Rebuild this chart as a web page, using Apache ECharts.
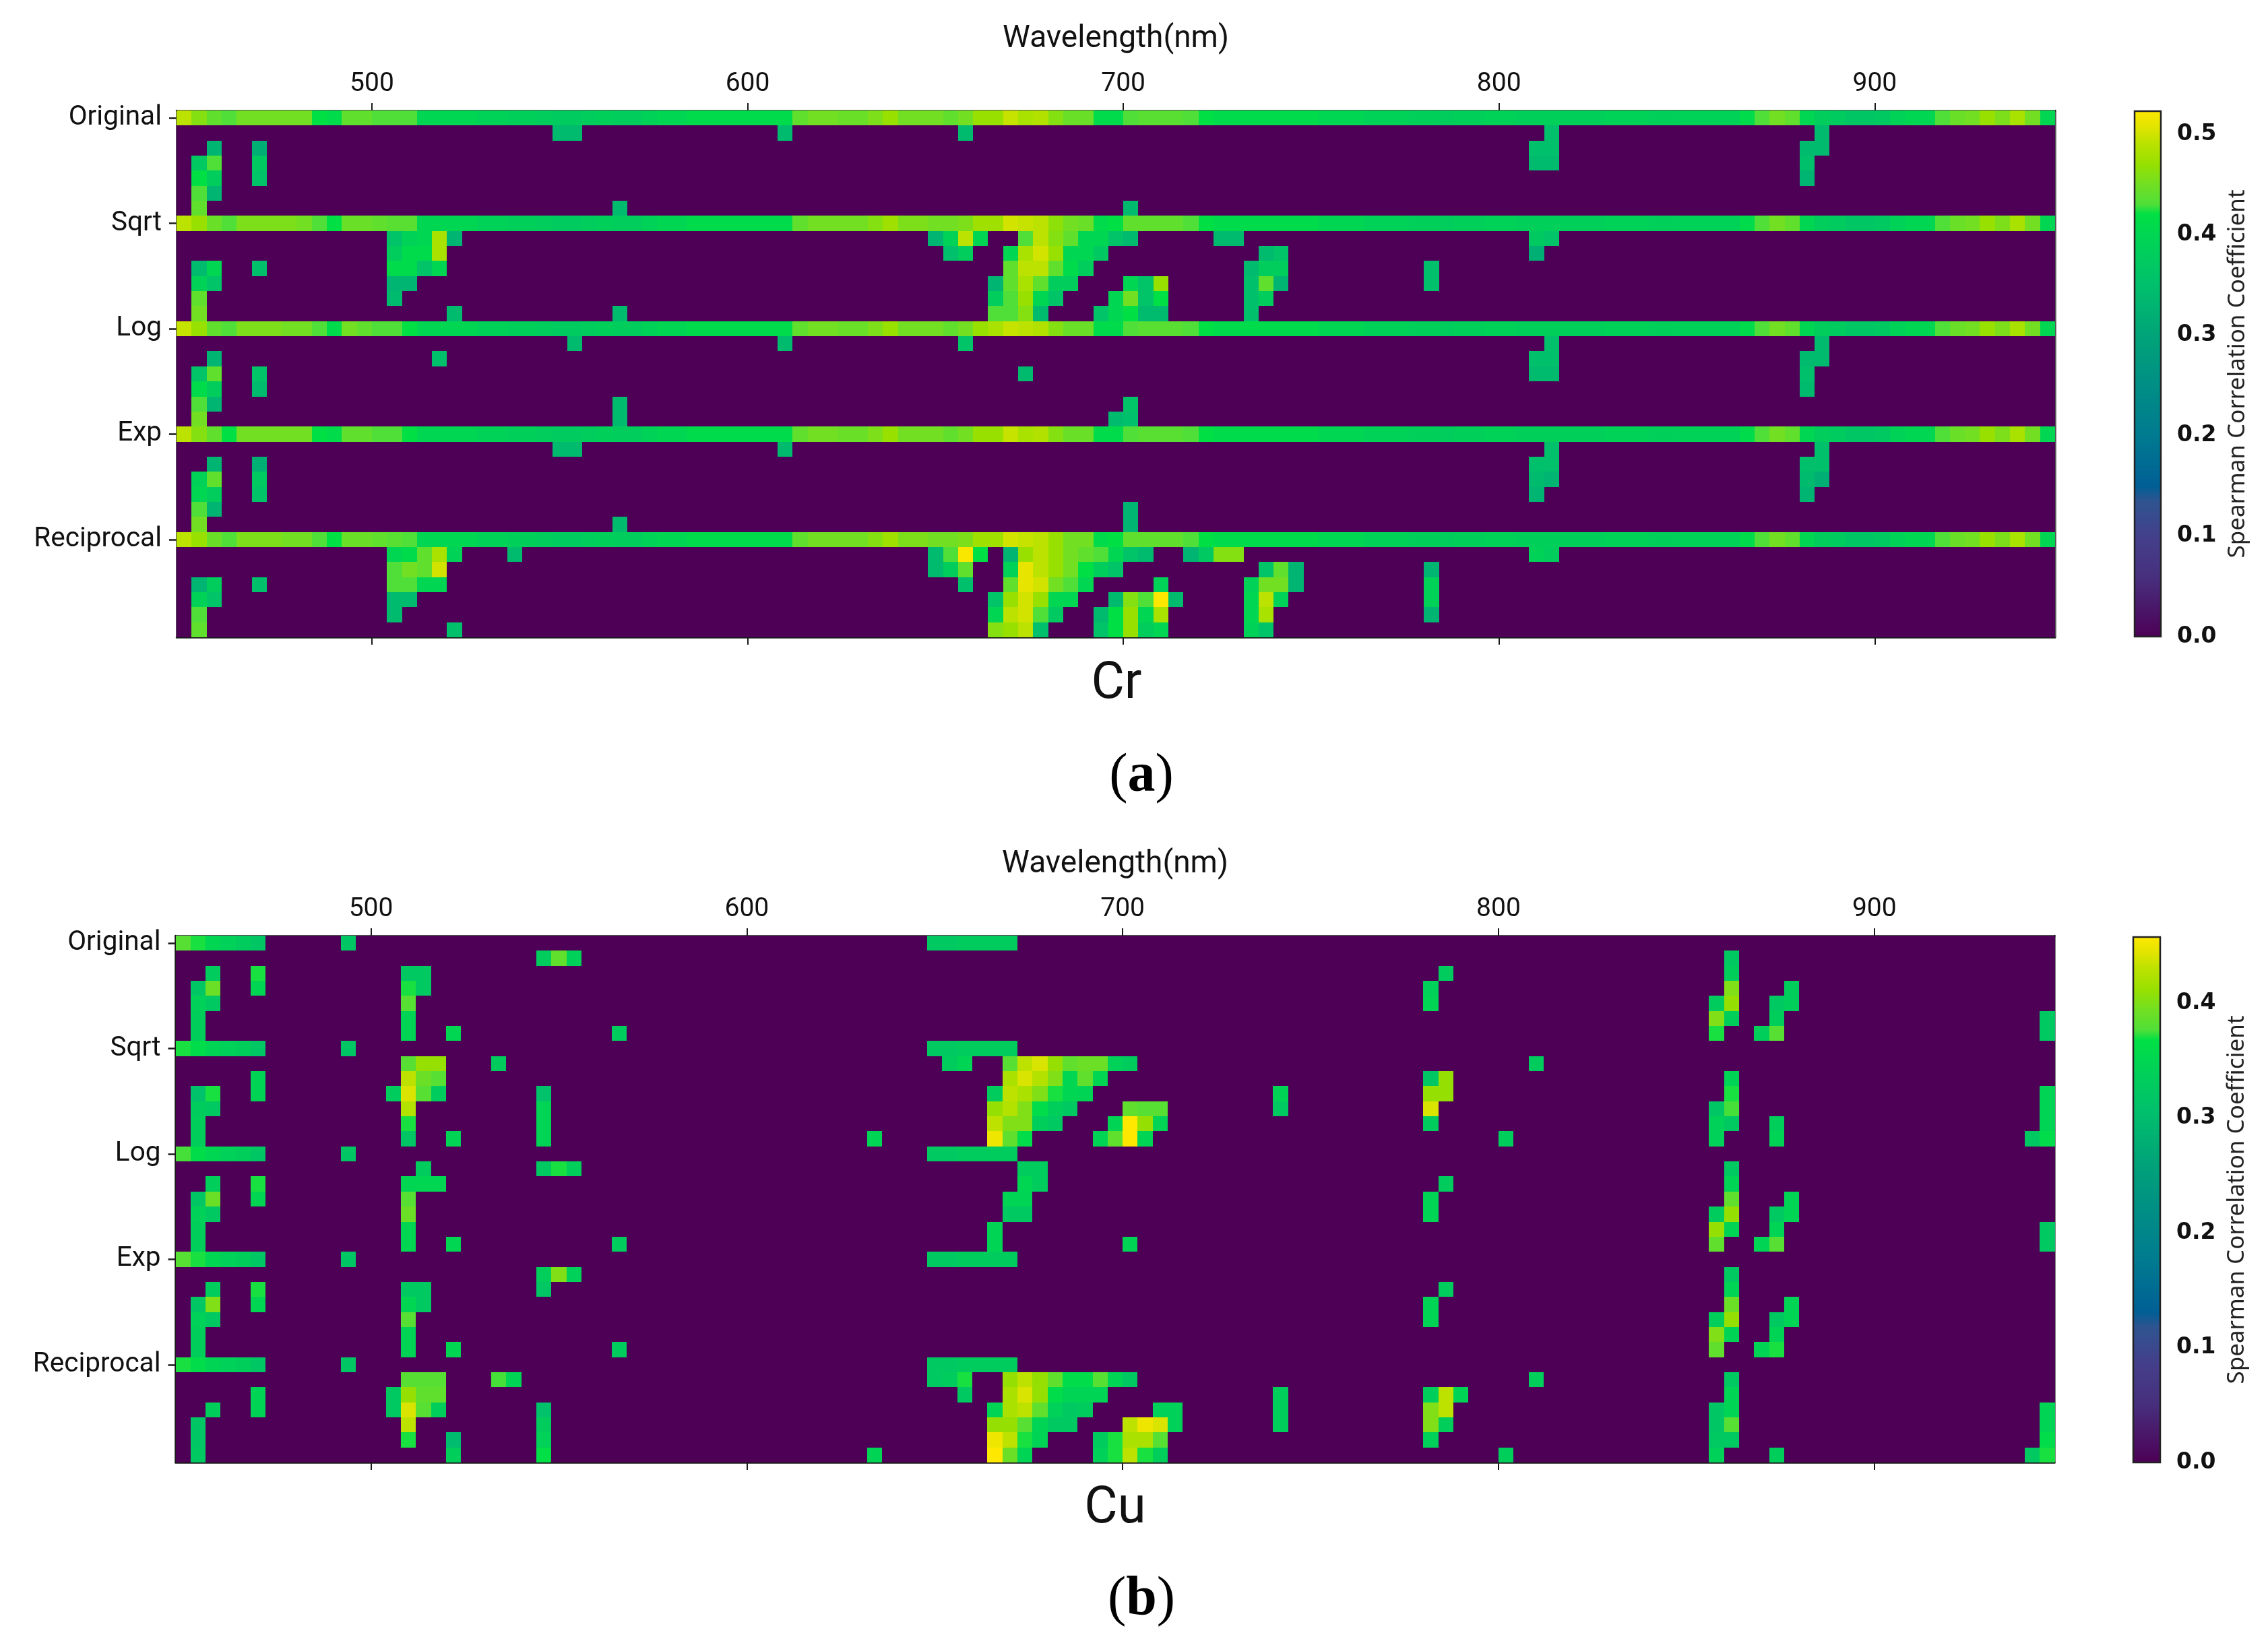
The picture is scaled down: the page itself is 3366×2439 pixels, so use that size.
<!DOCTYPE html>
<html><head><meta charset="utf-8">
<style>html,body{margin:0;padding:0;background:#fff}#c{width:3366px;height:2439px}</style>
<script src="https://cdn.jsdelivr.net/npm/echarts@6/dist/echarts.min.js"></script></head>
<body><div id="c"></div>
<script>
const xTicks=[500,600,700,800,900];
const rowLabels=['Original','Sqrt','Log','Exp','Reciprocal'];
const crMax=.523, cuMax=.4575;
const colorStops=[[0,'#4d0055'],[.115,'#47307e'],[.19,'#443f8a'],[.258,'#2f5490'],[.287,'#005f95'],[.382,'#007a90'],[.478,'#008e85'],[.574,'#00a478'],[.669,'#00c06c'],[.765,'#00d652'],[.803,'#00e044'],[.822,'#50df38'],[.86,'#72df22'],[.899,'#98e000'],[.937,'#bbe200'],[.966,'#dee400'],[1,'#ffe800']];

const crOriginal=[.49,.46,.44,.43,.45,.45,.45,.45,.45,.42,.41,.44,.44,.43,.43,.43,.40,.40,.40,.40,.39,.39,.385,.385,.38,.375,.375,.38,.385,.38,.38,.39,.40,.40,.41,.41,.41,.41,.41,.41,.41,.44,.45,.45,.445,.445,.455,.47,.45,.45,.45,.44,.45,.47,.47,.495,.48,.485,.46,.445,.445,.41,.41,.43,.435,.435,.435,.43,.42,.41,.41,.41,.41,.41,.41,.41,.40,.40,.40,.39,.39,.39,.385,.385,.38,.385,.385,.39,.39,.385,.385,.385,.385,.385,.385,.39,.39,.39,.385,.385,.39,.39,.39,.39,.41,.43,.45,.44,.40,.38,.375,.365,.365,.37,.39,.40,.40,.43,.445,.45,.47,.455,.48,.45,.40];
const crSqrt=[.49,.47,.445,.43,.455,.455,.455,.455,.45,.43,.42,.445,.445,.44,.435,.435,.40,.40,.40,.40,.39,.39,.385,.385,.38,.375,.375,.38,.385,.38,.38,.39,.40,.40,.41,.41,.41,.41,.41,.41,.41,.44,.45,.45,.45,.45,.46,.475,.455,.455,.45,.45,.455,.475,.475,.50,.495,.49,.465,.45,.445,.41,.42,.44,.44,.44,.44,.43,.42,.41,.41,.41,.41,.41,.41,.41,.40,.40,.40,.39,.39,.39,.385,.385,.38,.385,.385,.39,.39,.385,.385,.385,.385,.385,.385,.39,.39,.39,.385,.385,.39,.39,.39,.39,.41,.43,.45,.44,.40,.38,.375,.365,.365,.37,.39,.40,.40,.43,.445,.45,.47,.455,.48,.45,.40];
const crLog=[.495,.47,.44,.43,.455,.455,.455,.45,.45,.43,.41,.45,.44,.43,.43,.42,.40,.40,.40,.40,.39,.39,.385,.385,.38,.375,.375,.38,.385,.38,.38,.39,.40,.40,.41,.41,.41,.41,.41,.41,.41,.44,.45,.45,.445,.445,.455,.47,.45,.45,.45,.44,.45,.47,.48,.495,.49,.485,.46,.445,.445,.41,.41,.43,.435,.435,.435,.43,.42,.41,.41,.41,.41,.41,.41,.41,.40,.40,.40,.39,.39,.39,.385,.385,.38,.385,.385,.39,.39,.385,.385,.385,.385,.385,.385,.39,.39,.39,.385,.385,.39,.39,.39,.39,.41,.43,.45,.44,.40,.38,.375,.365,.365,.37,.39,.40,.40,.43,.445,.45,.47,.455,.48,.45,.40];
const crExp=[.49,.46,.44,.42,.45,.45,.45,.45,.45,.42,.41,.44,.44,.43,.43,.42,.40,.40,.40,.40,.39,.39,.385,.385,.38,.375,.375,.38,.385,.38,.38,.39,.40,.40,.41,.41,.41,.41,.41,.41,.41,.44,.45,.45,.445,.445,.455,.47,.45,.45,.45,.44,.45,.47,.47,.495,.48,.485,.46,.445,.445,.41,.41,.43,.435,.435,.435,.43,.42,.41,.41,.41,.41,.41,.41,.41,.40,.40,.40,.39,.39,.39,.385,.385,.38,.385,.385,.39,.39,.385,.385,.385,.385,.385,.385,.39,.39,.39,.385,.385,.39,.39,.39,.39,.41,.43,.45,.44,.40,.38,.375,.365,.365,.37,.39,.40,.40,.43,.445,.45,.47,.455,.48,.45,.40];
const crReciprocal=[.49,.47,.445,.43,.455,.455,.455,.45,.45,.43,.42,.445,.445,.44,.435,.43,.40,.40,.40,.40,.39,.39,.385,.385,.38,.375,.375,.38,.385,.38,.38,.39,.40,.40,.41,.41,.41,.41,.41,.41,.41,.44,.45,.45,.45,.45,.46,.475,.455,.455,.45,.45,.455,.475,.475,.50,.495,.49,.47,.45,.45,.41,.42,.44,.44,.44,.44,.43,.42,.41,.41,.41,.41,.41,.41,.41,.40,.40,.40,.39,.39,.39,.385,.385,.38,.385,.385,.39,.39,.385,.385,.385,.385,.385,.385,.39,.39,.39,.385,.385,.39,.39,.39,.39,.41,.43,.45,.44,.40,.38,.375,.365,.365,.37,.39,.40,.40,.43,.445,.45,.47,.455,.48,.45,.40];
const crFullRows=[[0,crOriginal],[7,crSqrt],[14,crLog],[21,crExp],[28,crReciprocal]];

// [row, [column, value, column, value, ...]]
const crCells=[
[1,[25,.34,26,.34,40,.34,52,.34,91,.35,109,.34]],
[2,[2,.33,5,.32,90,.35,91,.35,108,.34,109,.34]],
[3,[1,.37,2,.43,5,.37,90,.34,91,.34,108,.35]],
[4,[1,.42,2,.38,5,.36,108,.33]],
[5,[1,.43,2,.33]],
[6,[1,.44,29,.34,63,.34]],
[8,[14,.36,15,.39,16,.40,17,.48,18,.33,50,.33,51,.39,52,.49,53,.40,56,.43,57,.49,58,.46,59,.44,60,.40,61,.40,62,.36,63,.34,69,.34,70,.34,90,.37,91,.36]],
[9,[14,.38,15,.41,16,.41,17,.48,51,.35,52,.38,55,.40,56,.48,57,.50,58,.47,59,.40,60,.40,61,.37,72,.34,73,.36,90,.32]],
[10,[1,.34,2,.40,5,.35,14,.41,15,.41,16,.36,17,.40,55,.44,56,.49,57,.49,58,.44,59,.41,60,.38,71,.34,72,.38,73,.38,83,.35]],
[11,[1,.39,2,.36,14,.33,15,.33,54,.33,55,.44,56,.48,57,.44,58,.38,59,.38,63,.40,64,.36,65,.47,71,.35,72,.44,73,.33,83,.35]],
[12,[1,.44,14,.34,54,.38,55,.43,56,.47,57,.40,58,.36,62,.40,63,.45,64,.36,65,.42,71,.35,72,.38]],
[13,[1,.45,18,.34,29,.34,54,.43,55,.43,56,.46,57,.34,61,.36,62,.40,63,.42,64,.34,65,.34,71,.35]],
[15,[26,.34,40,.34,52,.36,91,.35,109,.34]],
[16,[2,.33,17,.35,90,.35,91,.35,108,.34,109,.34]],
[17,[1,.36,2,.44,5,.36,56,.34,90,.34,91,.34,108,.35]],
[18,[1,.41,2,.38,5,.34,108,.34]],
[19,[1,.43,2,.33,29,.34,63,.36]],
[20,[1,.45,29,.34,62,.34,63,.35]],
[22,[25,.34,26,.34,40,.34,91,.35,109,.35]],
[23,[2,.33,5,.32,90,.35,91,.35,108,.35,109,.35]],
[24,[1,.39,2,.44,5,.37,90,.34,91,.33,108,.34,109,.32]],
[25,[1,.40,2,.38,5,.36,90,.33,108,.33]],
[26,[1,.43,2,.33,63,.33]],
[27,[1,.45,29,.34,63,.33]],
[29,[14,.40,15,.41,16,.44,17,.48,18,.39,22,.34,50,.34,51,.43,52,.52,53,.42,55,.33,56,.47,57,.49,58,.47,59,.45,60,.44,61,.43,62,.40,63,.36,64,.34,67,.33,68,.37,69,.46,70,.46,90,.39,91,.38]],
[30,[14,.43,15,.45,16,.44,17,.50,50,.34,51,.38,52,.44,55,.39,56,.51,57,.49,58,.47,59,.45,60,.42,61,.38,62,.36,72,.36,73,.44,74,.33,83,.33]],
[31,[1,.33,2,.38,5,.35,14,.43,15,.43,16,.40,17,.40,52,.35,55,.44,56,.51,57,.50,58,.45,59,.43,60,.40,65,.39,71,.39,72,.45,73,.45,74,.33,83,.39]],
[32,[1,.39,2,.36,14,.34,15,.34,54,.36,55,.47,56,.50,57,.47,58,.40,59,.40,62,.34,63,.46,64,.43,65,.523,66,.34,71,.40,72,.49,73,.39,83,.39]],
[33,[1,.43,14,.34,54,.40,55,.49,56,.50,57,.43,58,.37,61,.34,62,.42,63,.47,64,.40,65,.48,71,.40,72,.48,83,.33]],
[34,[1,.44,18,.35,54,.46,55,.47,56,.49,57,.35,61,.36,62,.42,63,.47,64,.38,65,.40,71,.39,72,.36]]
];

const cuCells=[
[0,[0,.38,1,.37,2,.35,3,.34,4,.33,5,.32,11,.32,50,.325,51,.325,52,.33,53,.33,54,.33,55,.33]],
[1,[24,.33,25,.385,26,.34,103,.325]],
[2,[2,.33,5,.37,15,.325,16,.325,84,.33,103,.335]],
[3,[1,.32,2,.39,5,.35,15,.37,16,.325,83,.34,103,.40,107,.335]],
[4,[1,.34,2,.325,15,.38,83,.345,102,.33,103,.41,106,.325,107,.335]],
[5,[1,.335,15,.345,102,.40,103,.335,106,.335,124,.325]],
[6,[1,.335,15,.345,18,.35,29,.33,102,.37,105,.335,106,.38,124,.325]],
[7,[0,.37,1,.36,2,.345,3,.34,4,.335,5,.32,11,.32,50,.325,51,.325,52,.33,53,.33,54,.33,55,.33]],
[8,[15,.38,16,.41,17,.41,21,.33,51,.33,52,.345,55,.38,56,.43,57,.44,58,.41,59,.385,60,.39,61,.39,62,.34,63,.33,90,.33]],
[9,[5,.345,15,.43,16,.39,17,.38,55,.42,56,.44,57,.425,58,.40,59,.35,60,.385,61,.35,83,.32,84,.41,103,.345]],
[10,[1,.31,2,.37,5,.345,14,.33,15,.44,16,.38,17,.33,24,.31,54,.33,55,.43,56,.42,57,.40,58,.37,59,.35,60,.345,73,.345,83,.41,84,.41,103,.37,124,.345]],
[11,[1,.33,2,.325,15,.425,24,.345,54,.41,55,.425,56,.40,57,.36,58,.335,59,.325,63,.385,64,.38,65,.38,73,.325,83,.44,102,.32,103,.375,124,.345]],
[12,[1,.335,15,.37,24,.345,54,.43,55,.40,56,.40,57,.335,58,.325,62,.345,63,.4575,64,.41,65,.345,83,.33,102,.34,103,.325,106,.335,124,.345]],
[13,[1,.335,15,.32,18,.345,24,.345,46,.345,54,.45,55,.385,56,.36,61,.345,62,.385,63,.4575,64,.345,88,.335,102,.34,106,.345,123,.325,124,.36]],
[14,[0,.375,1,.36,2,.35,3,.34,4,.335,5,.32,11,.32,50,.325,51,.325,52,.33,53,.33,54,.33,55,.33]],
[15,[16,.33,24,.325,25,.37,26,.335,56,.33,57,.33,103,.325]],
[16,[2,.335,5,.37,15,.35,16,.35,17,.35,56,.35,57,.33,84,.33,103,.345]],
[17,[1,.32,2,.39,5,.35,15,.38,55,.345,56,.345,83,.345,103,.385,107,.345]],
[18,[1,.34,2,.325,15,.39,55,.325,56,.325,83,.345,102,.33,103,.41,106,.325,107,.345]],
[19,[1,.335,15,.35,54,.345,102,.41,103,.345,106,.345,124,.325]],
[20,[1,.335,15,.35,18,.35,29,.33,54,.345,63,.345,102,.385,105,.345,106,.38,124,.325]],
[21,[0,.38,1,.37,2,.35,3,.34,4,.335,5,.32,11,.32,50,.325,51,.325,52,.33,53,.33,54,.33,55,.33]],
[22,[24,.335,25,.40,26,.34,103,.325]],
[23,[2,.33,5,.37,15,.325,16,.325,24,.32,84,.33,103,.345]],
[24,[1,.32,2,.40,5,.35,15,.35,16,.325,83,.345,103,.39,107,.345]],
[25,[1,.34,2,.325,15,.38,83,.345,102,.335,103,.41,106,.325,107,.345]],
[26,[1,.335,15,.345,102,.40,103,.345,106,.345]],
[27,[1,.335,15,.345,18,.35,29,.33,102,.385,105,.345,106,.37]],
[28,[0,.37,1,.36,2,.345,3,.34,4,.335,5,.32,11,.32,50,.325,51,.325,52,.33,53,.33,54,.33,55,.33]],
[29,[15,.38,16,.38,17,.38,21,.375,22,.345,50,.325,51,.33,52,.37,55,.41,56,.43,57,.41,58,.385,59,.36,60,.36,61,.38,62,.345,63,.325,90,.335,103,.325]],
[30,[5,.345,14,.325,15,.41,16,.385,17,.385,52,.325,55,.42,56,.44,57,.41,58,.36,59,.345,60,.345,61,.345,73,.335,83,.335,84,.43,85,.345,103,.345]],
[31,[2,.335,5,.345,14,.325,15,.44,16,.38,17,.335,24,.31,54,.345,55,.42,56,.43,57,.385,58,.34,59,.325,60,.33,65,.34,66,.34,73,.335,83,.40,84,.43,102,.32,103,.345,124,.345]],
[32,[1,.32,15,.43,24,.33,54,.41,55,.41,56,.38,57,.345,58,.325,59,.325,63,.43,64,.45,65,.44,66,.34,73,.335,83,.40,84,.335,102,.32,103,.38,124,.345]],
[33,[1,.32,15,.37,18,.30,24,.34,54,.45,55,.43,56,.37,57,.345,61,.33,62,.37,63,.42,64,.42,65,.38,83,.34,102,.325,103,.325,124,.36]],
[34,[1,.325,18,.335,24,.365,46,.345,54,.4575,55,.39,56,.345,61,.34,62,.37,63,.43,64,.37,65,.335,88,.335,102,.34,106,.335,123,.325,124,.37]]
];

const WL0=448, WL1=948, STEP=4, NCOL=125, NROW=35;
const FONT='Roboto';
const TICKCOL='#1a1a1a';

function hex(c){return [1,3,5].map(i=>parseInt(c.substr(i,2),16));}
function colorAt(t){
  t=Math.max(0,Math.min(1,t));
  for(let i=1;i<colorStops.length;i++){
    if(t<=colorStops[i][0]){
      const a=colorStops[i-1],b=colorStops[i],f=(t-a[0])/(b[0]-a[0]);
      const A=hex(a[1]),B=hex(b[1]);
      return 'rgb('+A.map((v,k)=>Math.round(v+(B[k]-v)*f)).join(',')+')';
    }
  }
  return colorStops[colorStops.length-1][1];
}
function buildMatrix(cells,fullRows){
  const m=[];for(let r=0;r<NROW;r++){m.push(new Array(NCOL).fill(0));}
  (fullRows||[]).forEach(([r,vals])=>vals.forEach((v,c)=>{m[r][c]=v;}));
  cells.forEach(([r,list])=>{for(let i=0;i<list.length;i+=2){m[r][list[i]]=list[i+1];}});
  const out=[];
  for(let r=0;r<NROW;r++)for(let c=0;c<NCOL;c++)out.push([WL0+c*STEP,r,m[r][c]]);
  return out;
}
const rowNames=[];for(let r=0;r<NROW;r++){rowNames.push(r%7===0?rowLabels[r/7]:' ');}

function heatSeries(xi,yi,data,max){
  return {type:'custom',xAxisIndex:xi,yAxisIndex:yi,data:data,clip:true,progressive:0,animation:false,silent:true,
    encode:{x:0,y:1},
    renderItem(params,api){
      const w=api.value(0),r=api.value(1),v=api.value(2);
      const p0=api.coord([w,r]),p1=api.coord([w+STEP,r]),h=api.size([0,1])[1];
      const x0=Math.round(p0[0]),x1=Math.round(p1[0]),y0=Math.round(p0[1]-h/2),y1=Math.round(p0[1]+h/2);
      return {type:'rect',shape:{x:x0,y:y0,width:x1-x0,height:y1-y0},style:{fill:colorAt(v/max)}};
    }};
}
function barSeries(xi,yi,max){
  const stops=colorStops.map(s=>({offset:s[0],color:s[1]}));
  return {type:'custom',xAxisIndex:xi,yAxisIndex:yi,data:[[0,0,max]],animation:false,silent:true,clip:false,
    encode:{x:0,y:[1,2]},
    renderItem(params,api){
      const a=api.coord([0,api.value(1)]),b=api.coord([1,api.value(2)]);
      return {type:'rect',shape:{x:a[0],y:b[1],width:b[0]-a[0],height:a[1]-b[1]},
        style:{fill:new echarts.graphic.LinearGradient(0,1,0,0,stops),stroke:'#222',lineWidth:2.5}};
    }};
}
const lineSt={show:true,lineStyle:{color:TICKCOL,width:2.5}};
function xTop(g){return {gridIndex:g,type:'value',position:'top',min:WL0,max:WL1,
  name:'Wavelength(nm)',nameLocation:'middle',nameGap:83,
  nameTextStyle:{fontFamily:FONT,fontSize:46,color:'#111'},
  axisLine:lineSt,splitLine:{show:false},
  axisTick:{show:true,length:11,lineStyle:{color:TICKCOL,width:2},customValues:xTicks},
  axisLabel:{show:true,margin:19,fontFamily:FONT,fontSize:39,color:'#111',customValues:xTicks,formatter:v=>String(v)}};}
function xBot(g){return {gridIndex:g,type:'value',position:'bottom',min:WL0,max:WL1,
  axisLine:lineSt,splitLine:{show:false},
  axisTick:{show:true,length:11,lineStyle:{color:TICKCOL,width:2},customValues:xTicks},
  axisLabel:{show:false}};}
function yLeft(g){return {gridIndex:g,type:'category',inverse:true,position:'left',data:rowNames,boundaryGap:true,
  axisLine:lineSt,splitLine:{show:false},
  axisTick:{show:true,alignWithLabel:true,interval:6,length:11,lineStyle:{color:TICKCOL,width:2.5}},
  axisLabel:{show:true,interval:6,margin:22,padding:[20,0,0,0],fontFamily:FONT,fontSize:40.5,color:'#111'}};}
function yRight(g){return {gridIndex:g,type:'category',inverse:true,position:'right',data:rowNames,
  axisLine:{show:true,lineStyle:{color:'#555',width:2.5}},axisTick:{show:false},axisLabel:{show:false},splitLine:{show:false}};}
function barX(g){return {gridIndex:g,type:'value',min:0,max:1,show:false};}
function barY(g,max){const vals=[0,.1,.2,.3,.4,.5].filter(v=>v<=max);
  return {gridIndex:g,type:'value',position:'right',min:0,max:max,
  name:'Spearman Correlation Coefficient',nameLocation:'middle',nameRotate:90,nameGap:97,
  nameTextStyle:{fontFamily:'Noto Sans',fontSize:35,color:'#222'},
  axisLine:{show:false},splitLine:{show:false},
  axisTick:{show:true,length:13,lineStyle:{color:TICKCOL,width:2},customValues:vals},
  axisLabel:{show:true,margin:24,padding:[5,0,0,0],fontFamily:'DejaVu Sans',fontWeight:'bold',fontSize:33,color:'#111',customValues:vals,formatter:v=>v.toFixed(1)}};}

function panelText(x,y,t,size){return {type:'text',x:x,y:y,style:{text:t,fontFamily:FONT,fontSize:size,fill:'#111',align:'center',verticalAlign:'middle'}};}
function tagText(x,y,l){return {type:'text',x:x,y:y,style:{text:'{p|(}{b|'+l+'}{p|)}',align:'center',verticalAlign:'middle',
  rich:{p:{fontFamily:'Liberation Serif',fontWeight:'normal',fontSize:82,fill:'#000'},b:{fontFamily:'Liberation Serif',fontWeight:'bold',fontSize:82,fill:'#000'}}}};}

const chart=echarts.init(document.getElementById('c'),null,{renderer:'canvas',width:3366,height:2439});
chart.setOption({
  backgroundColor:'#ffffff',animation:false,
  grid:[
    {left:262,top:164,width:2788,height:782,containLabel:false},
    {left:3168,top:165,width:39,height:780},
    {left:260.5,top:1389,width:2789,height:782},
    {left:3166,top:1391,width:40,height:780}
  ],
  xAxis:[xTop(0),xBot(0),barX(1),xTop(2),xBot(2),barX(3)],
  yAxis:[yLeft(0),yRight(0),barY(1,crMax),yLeft(2),yRight(2),barY(3,cuMax)],
  series:[
    heatSeries(0,0,buildMatrix(crCells,crFullRows),crMax),
    barSeries(2,2,crMax),
    heatSeries(3,3,buildMatrix(cuCells),cuMax),
    barSeries(5,5,cuMax)
  ],
  graphic:[panelText(1657,1017,'Cr',76),tagText(1694,1153,'a'),panelText(1655,2241,'Cu',76),tagText(1694,2375,'b')]
});
</script></body></html>
